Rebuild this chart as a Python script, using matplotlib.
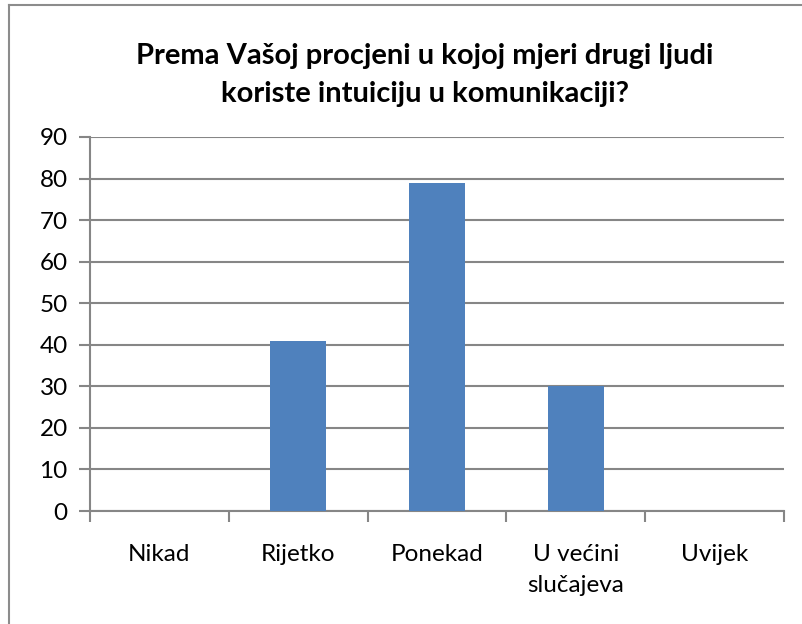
import matplotlib
matplotlib.use("Agg")
import matplotlib.pyplot as plt
from matplotlib.lines import Line2D

categories = ["Nikad", "Rijetko", "Ponekad", "U većini\nslučajeva", "Uvijek"]
values = [0, 41, 79, 30, 0]
yticks = [0, 10, 20, 30, 40, 50, 60, 70, 80, 90]
title = "Prema Vašoj procjeni u kojoj mjeri drugi ljudi\nkoriste intuiciju u komunikaciji?"

plt.rcParams['font.family'] = ['Lato', 'DejaVu Sans']

W, H = 802, 624
fig = plt.figure(figsize=(W / 100, H / 100), dpi=100)
fig.patch.set_facecolor('white')

# chart border (left and top visible)
fig.add_artist(Line2D([9 / W, 9 / W], [0, 1 - 5 / H], color='#8c8c8c', lw=1.5, transform=fig.transFigure))
fig.add_artist(Line2D([9 / W, 1], [1 - 5 / H, 1 - 5 / H], color='#8c8c8c', lw=1.5, transform=fig.transFigure))

ax = fig.add_axes([90 / W, 1 - 511 / H, (784 - 90) / W, (511 - 137) / H])
x = list(range(len(categories)))
ax.bar(x, values, width=0.4, color='#4f81bd', zorder=3)
ax.set_xlim(-0.5, len(categories) - 0.5)
ax.set_ylim(0, 90)
ax.set_yticks(yticks)
ax.set_yticklabels([str(v) for v in yticks], fontsize=17.5)
ax.set_xticks(x)
ax.set_xticklabels(categories, fontsize=17.5, linespacing=1.55)
ax.set_xticks([i - 0.5 for i in range(len(categories) + 1)], minor=True)
ax.tick_params(axis='x', which='major', length=0, pad=24)
ax.tick_params(axis='x', which='minor', length=8, color='#868686', width=1.5, direction='out')
ax.tick_params(axis='y', length=8, color='#868686', width=1.5, direction='out', pad=8)
ax.grid(axis='y', color='#868686', lw=1.5, zorder=0)
for side in ['top', 'right']:
    ax.spines[side].set_visible(False)
for side in ['left', 'bottom']:
    ax.spines[side].set_color('#868686')
    ax.spines[side].set_linewidth(1.5)
ax.set_axisbelow(True)

fig.text(425 / W, 1 - 75 / H, title, ha='center', va='center', fontsize=21, fontweight='bold', linespacing=1.6)

fig.savefig("out.png", dpi=100)
